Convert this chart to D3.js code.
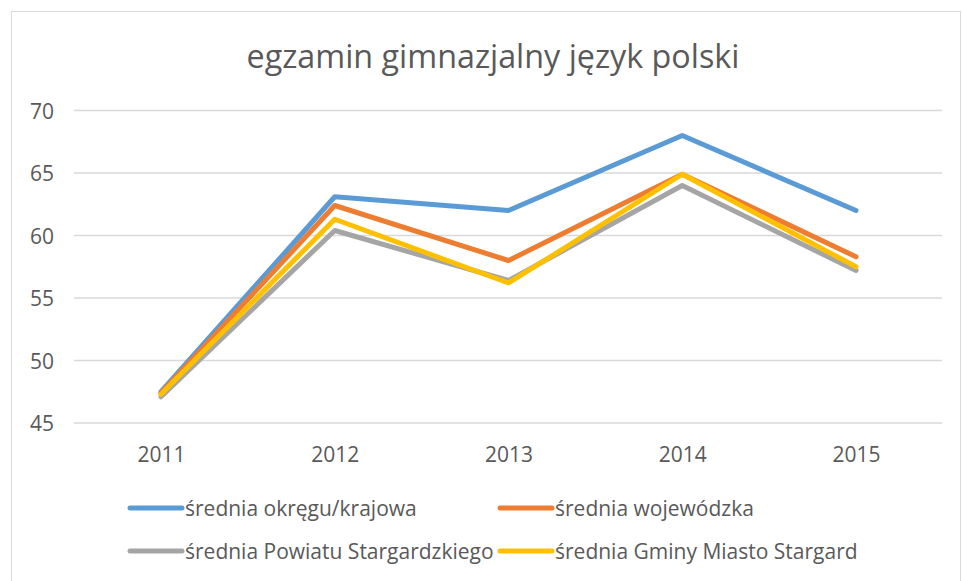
<!DOCTYPE html>
<html><head><meta charset="utf-8">
<script src="https://cdn.jsdelivr.net/npm/d3@7"></script>
<style>body{margin:0;background:#fff;font-family:'Open Sans',sans-serif}</style>
</head><body>
<svg id="c" width="962" height="581"></svg>
<script>
const years = ["2011","2012","2013","2014","2015"];
const seriesNames = ["średnia okręgu/krajowa","średnia wojewódzka","średnia Powiatu Stargardzkiego","średnia Gminy Miasto Stargard"];
const okregu = [47.5, 63.1, 62.0, 68.0, 62.0];
const wojewodzka = [47.4, 62.4, 58.0, 64.9, 58.3];
const powiat = [47.1, 60.4, 56.4, 64.0, 57.2];
const gmina = [47.3, 61.3, 56.2, 64.9, 57.5];
const yTicks = [45, 50, 55, 60, 65, 70];
const colors = ["#5b9bd5","#ed7d31","#a5a5a5","#ffc000"];
const seriesValues = [okregu, wojewodzka, powiat, gmina];

const svg = d3.select("#c");
svg.append("rect").attr("x",11.5).attr("y",11.5).attr("width",949).attr("height",580)
  .attr("fill","#fff").attr("stroke","#d9d9d9");

const x = d3.scalePoint().domain(years).range([161, 856]);
const y = d3.scaleLinear().domain([45,70]).range([423, 110.5]);

svg.append("g").selectAll("line").data(yTicks).join("line")
  .attr("x1",74).attr("x2",942).attr("y1",d=>y(d)).attr("y2",d=>y(d))
  .attr("stroke","#d9d9d9").attr("stroke-width",1.5);

const yAxis = svg.append("g").attr("transform","translate(74,0)")
  .call(d3.axisLeft(y).tickValues(yTicks).tickSize(0).tickPadding(20));
yAxis.select(".domain").remove();
yAxis.selectAll("text").attr("fill","#595959").attr("dy","0.36em").style("font-size","21px").style("font-family","'Open Sans',sans-serif");

const xAxis = svg.append("g").attr("transform","translate(0,423)")
  .call(d3.axisBottom(x).tickSize(0).tickPadding(24));
xAxis.select(".domain").remove();
xAxis.selectAll("text").attr("fill","#595959").style("font-size","21px").style("font-family","'Open Sans',sans-serif");

const line = d3.line().x((d,i)=>x(years[i])).y(d=>y(d));
seriesValues.forEach((vals,i)=>{
  svg.append("path").datum(vals).attr("d",line).attr("fill","none")
    .attr("stroke",colors[i]).attr("stroke-width",5).attr("stroke-linecap","round").attr("stroke-linejoin","round");
});

svg.append("text").attr("x",493).attr("y",68).attr("text-anchor","middle")
  .attr("fill","#595959").style("font-size","32.3px").text("egzamin gimnazjalny język polski");

const legPos = [[128,508],[498,508],[128,551],[498,551]];
seriesNames.forEach((n,i)=>{
  const g = svg.append("g").attr("transform",`translate(${legPos[i][0]},${legPos[i][1]})`);
  g.append("line").attr("x1",2).attr("x2",54).attr("stroke",colors[i]).attr("stroke-width",5).attr("stroke-linecap","round");
  g.append("text").attr("x",57).attr("y",8).attr("fill","#595959").style("font-size","21px").text(n);
});
</script>
</body></html>
